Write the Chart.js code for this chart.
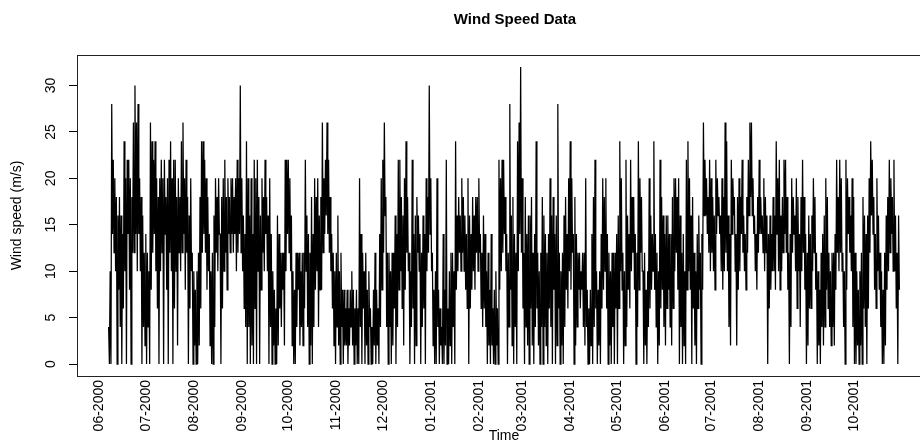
<!DOCTYPE html>
<html>
<head>
<meta charset="utf-8">
<title>Wind Speed Data</title>
<script src="https://cdn.jsdelivr.net/npm/chart.js@4.4.1/dist/chart.umd.min.js"></script>
<style>
  html, body { margin: 0; padding: 0; background: #fff; overflow: hidden; }
  canvas { display: block; }
</style>
</head>
<body>
<canvas id="windChart" width="960" height="441"></canvas>
<script>
// Two readings a day (day high, day low), first day 7 June 2000
const windSpeed = [
  4,0, 10,0, 28,14, 22,12, 20,10, 18,0, 16,8, 18,4, 16,0, 14,6,
  24,10, 20,0, 22,14, 22,8, 20,0, 18,12, 26,12, 30,14, 26,10, 28,14,
  20,10, 18,0, 16,4, 12,2, 14,0, 12,4, 10,0, 26,8, 24,12, 22,14,
  24,10, 20,6, 18,0, 20,10, 22,12, 20,0, 22,14, 18,8, 20,0, 22,12,
  24,10, 20,0, 22,6, 22,10, 18,2, 20,12, 18,10, 24,12, 26,14, 20,8,
  22,12, 18,0, 16,6, 20,10, 12,0, 10,2, 8,0, 10,0, 12,2, 18,6,
  24,12, 24,14, 22,12, 20,8, 18,10, 14,2, 10,0, 12,0, 16,4, 20,12,
  18,10, 20,14, 14,0, 18,6, 20,10, 22,12, 18,8, 20,14, 18,12, 20,14,
  20,12, 18,14, 20,10, 22,12, 20,14, 30,12, 20,10, 16,6, 14,4, 24,0,
  20,4, 16,0, 20,2, 14,0, 22,6, 20,0, 22,10, 18,0, 16,8, 20,12,
  18,10, 22,14, 18,10, 16,0, 20,4, 14,0, 10,2, 8,0, 6,0, 16,2,
  14,6, 12,4, 12,8, 12,2, 22,10, 22,14, 22,12, 20,10, 16,2, 10,0,
  8,0, 12,4, 12,8, 12,2, 10,4, 12,2, 12,6, 22,10, 16,4, 14,0,
  12,2, 18,0, 14,4, 20,8, 18,10, 20,4, 16,8, 18,8, 26,12, 20,14,
  22,16, 26,14, 22,12, 18,10, 14,6, 12,2, 10,0, 12,4, 16,2, 10,0,
  12,4, 8,0, 8,2, 6,2, 8,0, 6,2, 8,4, 10,2, 8,0, 6,2, 8,0,
  6,0, 20,4, 14,0, 12,6, 10,0, 12,2, 8,0, 10,4, 6,0, 4,0,
  8,2, 12,0, 8,2, 6,0, 14,4, 20,8, 22,12, 26,16, 18,4, 12,0,
  12,4, 10,0, 12,2, 12,6, 16,0, 14,4, 22,8, 22,10, 18,6, 16,2,
  20,8, 24,12, 18,10, 12,0, 10,4, 22,6, 14,0, 16,2, 18,12, 16,10,
  14,0, 12,4, 16,6, 14,0, 20,10, 18,12, 30,14, 20,10, 12,2, 8,0,
  10,0, 20,4, 8,0, 6,2, 4,0, 14,0, 8,2, 22,0, 6,0, 10,2,
  12,0, 12,4, 10,0, 24,8, 16,10, 18,12, 16,10, 20,12, 18,10, 16,8,
  14,6, 20,0, 16,6, 14,8, 18,10, 16,8, 18,12, 18,10, 20,12, 14,6,
  12,4, 16,6, 14,4, 10,0, 12,2, 8,0, 14,2, 6,0, 8,0, 10,2,
  6,0, 22,8, 20,10, 22,12, 22,14, 18,10, 14,0, 12,4, 28,8, 16,2,
  18,0, 14,4, 12,0, 24,10, 26,14, 32,12, 20,6, 12,0, 18,4, 14,2,
  16,0, 16,6, 18,2, 12,0, 14,4, 24,6, 12,2, 10,0, 12,4, 18,0,
  16,4, 14,2, 12,0, 14,6, 20,4, 16,0, 18,8, 14,0, 16,2, 28,6,
  12,0, 10,2, 12,0, 16,4, 18,8, 14,6, 20,10, 24,8, 20,12, 14,0,
  18,2, 14,4, 12,8, 12,6, 10,8, 12,4, 12,2, 20,4, 8,0, 6,0, 8,2,
  14,0, 18,4, 22,6, 10,0, 8,2, 10,0, 14,6, 20,8, 18,10, 20,6,
  14,0, 12,2, 10,0, 12,4, 12,0, 12,6, 14,0, 16,6, 24,10, 20,8,
  12,0, 10,2, 22,4, 16,8, 14,6, 22,10, 18,12, 18,8, 14,0, 12,4,
  24,8, 20,12, 18,10, 10,0, 12,2, 8,0, 10,4, 20,6, 16,8, 14,10,
  24,8, 14,4, 12,0, 10,2, 22,6, 18,8, 16,4, 14,2, 16,6, 16,8,
  14,4, 14,2, 18,6, 20,10, 20,12, 18,8, 20,0, 16,4, 12,0, 14,2,
  10,0, 22,8, 24,10, 20,8, 16,0, 18,6, 12,2, 10,0, 14,6, 16,8,
  12,0, 14,8, 26,16, 22,16, 20,14, 18,12, 22,10, 20,12, 18,10, 16,8,
  22,14, 20,16, 18,14, 16,10, 20,8, 18,10, 26,12, 24,10, 16,4, 14,2,
  22,14, 20,16, 18,10, 14,2, 18,8, 20,10, 18,14, 22,12, 16,10, 14,8,
  18,12, 22,16, 26,18, 26,16, 20,14, 16,10, 14,8, 18,12, 22,14, 18,14,
  16,12, 20,10, 18,12, 16,0, 14,6, 16,8, 14,10, 18,10, 16,8, 24,14,
  20,10, 22,8, 16,10, 18,12, 22,14, 22,12, 18,8, 12,0, 14,4, 20,12,
  18,14, 16,10, 20,6, 18,10, 14,4, 18,10, 22,12, 18,8, 14,0, 12,2,
  16,6, 14,6, 16,10, 20,12, 18,8, 12,0, 10,2, 8,0, 12,4, 14,2, 16,4,
  20,8, 18,6, 12,4, 10,2, 12,4, 12,2, 14,8, 22,12, 18,10, 22,12,
  20,10, 12,4, 10,0, 22,8, 20,14, 18,12, 16,10, 20,4, 18,0, 12,0,
  10,2, 8,0, 10,2, 12,0, 18,6, 16,4, 14,0, 16,6, 20,12, 24,16,
  22,14, 18,8, 14,6, 20,10, 16,8, 12,4, 10,0, 8,0, 12,2, 16,8,
  18,10, 22,12, 20,14, 18,10, 22,10, 16,6, 12,0, 16,8
];

const monthLabels = ['06-2000', '07-2000', '08-2000', '09-2000', '10-2000', '11-2000',
  '12-2000', '01-2001', '02-2001', '03-2001', '04-2001', '05-2001', '06-2001',
  '07-2001', '08-2001', '09-2001', '10-2001'];
const yTicks = [0, 5, 10, 15, 20, 25, 30];

const readingsPerDay = 2;
const firstDay = Date.UTC(2000, 5, 7);
const DAY_MS = 86400000;

// month tick positions, in days from the first reading
const monthStarts = monthLabels.map(lbl => {
  const [m, y] = lbl.split('-').map(Number);
  return (Date.UTC(y, m - 1, 1) - firstDay) / DAY_MS;
});

const points = windSpeed.map((v, i) => ({ x: i / readingsPerDay, y: v }));
const lastX = (windSpeed.length - 1) / readingsPerDay;
const xPad = lastX * 0.04;
const yMax = Math.max(...windSpeed);
const yPad = yMax * 0.04;

const FONT = '"Liberation Sans", Arial, Helvetica, sans-serif';

// box, rotated y labels and titles in base-graphics style
const frame = {
  id: 'frame',
  afterDraw(chart) {
    const { ctx, chartArea: a, scales } = chart;
    ctx.save();
    ctx.strokeStyle = '#222';
    ctx.lineWidth = 1;
    ctx.strokeRect(Math.round(a.left) + 0.5, Math.round(a.top) + 0.5,
      Math.round(a.right - a.left), Math.round(a.bottom - a.top));

    ctx.fillStyle = '#000';
    ctx.font = '14px ' + FONT;
    ctx.textAlign = 'center';
    ctx.textBaseline = 'middle';
    yTicks.forEach(v => {
      const py = scales.y.getPixelForValue(v);
      ctx.save();
      ctx.translate(51, py);
      ctx.rotate(-Math.PI / 2);
      ctx.fillText(String(v), 0, 0);
      ctx.restore();
    });

    ctx.save();
    ctx.translate(17, (a.top + a.bottom) / 2);
    ctx.rotate(-Math.PI / 2);
    ctx.fillText('Wind speed (m/s)', 0, 0);
    ctx.restore();

    ctx.fillText('Time', (a.left + a.right) / 2, 436);

    ctx.font = 'bold 15px ' + FONT;
    ctx.fillText('Wind Speed Data', 515, 20);
    ctx.restore();
  }
};

new Chart(document.getElementById('windChart'), {
  type: 'line',
  data: {
    datasets: [{
      label: 'Wind speed',
      data: points,
      borderColor: '#000',
      borderWidth: 1.25,
      pointRadius: 0,
      tension: 0,
      fill: false
    }]
  },
  options: {
    responsive: false,
    animation: false,
    parsing: false,
    normalized: true,
    layout: { padding: { top: 55, right: 29, left: 0, bottom: 0 } },
    plugins: {
      legend: { display: false },
      tooltip: { enabled: false },
      title: { display: false }
    },
    scales: {
      x: {
        type: 'linear',
        min: -xPad,
        max: lastX + xPad,
        afterBuildTicks: s => { s.ticks = monthStarts.map(v => ({ value: v })); },
        afterFit: s => { s.height = 65; },
        grid: { display: false, drawTicks: false },
        border: { display: false },
        ticks: {
          autoSkip: false,
          minRotation: 90,
          maxRotation: 90,
          padding: 4,
          color: '#000',
          font: { family: FONT, size: 14 },
          callback: (v, i) => monthLabels[i]
        }
      },
      y: {
        min: -yPad,
        max: yMax + yPad,
        afterBuildTicks: s => { s.ticks = yTicks.map(v => ({ value: v })); },
        afterFit: s => { s.width = 77; },
        grid: { drawOnChartArea: false, drawTicks: true, tickLength: 8, color: '#000' },
        border: { display: false },
        ticks: { display: false }
      }
    }
  },
  plugins: [frame]
});
</script>
</body>
</html>
